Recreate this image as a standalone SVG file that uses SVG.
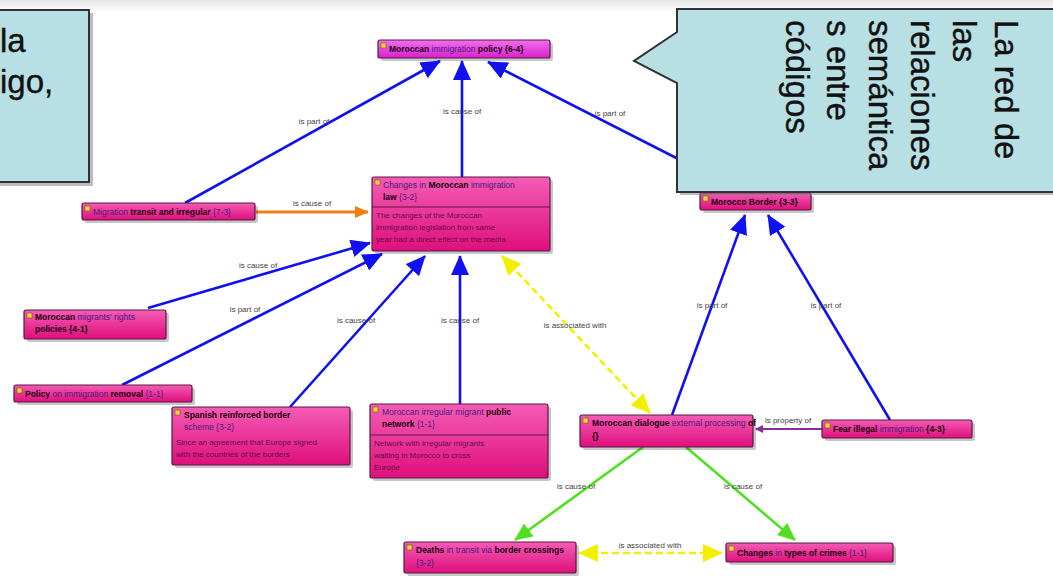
<svg xmlns="http://www.w3.org/2000/svg" width="1053" height="579" viewBox="0 0 1053 579">
  <style>
    .node-body { stroke: #5b1645; stroke-width: 1.2; }
    .shadow { fill: #000; opacity: 0.22; }
    .icon { fill: #f4d23a; stroke: #7a5a10; stroke-width: 0.6; }
    .title { font-family: "Liberation Sans", Arial, sans-serif; font-size: 8.5px; font-weight: bold; fill: #1a0010; }
    .title .lite { font-weight: normal; fill: #4a1a80; }
    .desc { font-family: "Liberation Sans", Arial, sans-serif; font-size: 8px; fill: #6a0a45; }
    .sep { stroke: #5b1645; stroke-width: 1; }
    .elabel { font-family: "Liberation Sans", Arial, sans-serif; font-size: 8px; fill: #444; text-anchor: middle; }
    .blue { stroke: #1010f0; stroke-width: 2.6; fill: none; }
    .orange { stroke: #f08010; stroke-width: 2.8; fill: none; }
    .yellow { stroke: #f2f000; stroke-width: 2.6; fill: none; stroke-dasharray: 7 4; }
    .green { stroke: #50e020; stroke-width: 2.6; fill: none; }
    .purple { stroke: #8a2aa0; stroke-width: 2; fill: none; }
    .callout { fill: #b8dfe3; stroke: #2e3436; stroke-width: 2; }
    .ctext { font-family: "Liberation Sans", Arial, sans-serif; font-size: 33px; fill: #111; stroke: #111; stroke-width: 0.4; }
  </style>
  <defs>
    <linearGradient id="pink" x1="0" y1="0" x2="0" y2="1">
      <stop offset="0" stop-color="#f45cb4"/>
      <stop offset="1" stop-color="#df0f7c"/>
    </linearGradient>
    <linearGradient id="magenta" x1="0" y1="0" x2="0" y2="1">
      <stop offset="0" stop-color="#f070ec"/>
      <stop offset="1" stop-color="#d820cc"/>
    </linearGradient>
    <linearGradient id="topfade" x1="0" y1="0" x2="0" y2="1">
      <stop offset="0" stop-color="#e6e6e6"/>
      <stop offset="1" stop-color="#ffffff"/>
    </linearGradient>
    <marker id="arBlue" viewBox="0 0 20 18" refX="19" refY="9" markerWidth="20" markerHeight="18" markerUnits="userSpaceOnUse" orient="auto">
      <path d="M0,0 L20,9 L0,18 Z" fill="#1010f0"/>
    </marker>
    <marker id="arOrange" viewBox="0 0 14 12" refX="13" refY="6" markerWidth="14" markerHeight="12" markerUnits="userSpaceOnUse" orient="auto">
      <path d="M0,0 L14,6 L0,12 Z" fill="#f08010"/>
    </marker>
    <marker id="arYellow" viewBox="0 0 20 18" refX="19" refY="9" markerWidth="20" markerHeight="18" markerUnits="userSpaceOnUse" orient="auto-start-reverse">
      <path d="M0,0 L20,9 L0,18 Z" fill="#f2f000"/>
    </marker>
    <marker id="arGreen" viewBox="0 0 18 16" refX="17" refY="8" markerWidth="18" markerHeight="16" markerUnits="userSpaceOnUse" orient="auto">
      <path d="M0,0 L18,8 L0,16 Z" fill="#50e020"/>
    </marker>
    <marker id="arPurple" viewBox="0 0 8 8" refX="7" refY="4" markerWidth="8" markerHeight="8" markerUnits="userSpaceOnUse" orient="auto">
      <path d="M0,0 L8,4 L0,8 Z" fill="#8a2aa0"/>
    </marker>
  </defs>

  <!-- page background -->
  <rect x="0" y="0" width="1053" height="579" fill="#ffffff"/>
  <rect x="0" y="0" width="1053" height="12" fill="url(#topfade)"/>

  <!-- connectors -->
  <g id="connectors">
    <line class="blue" x1="185" y1="203" x2="440" y2="61" marker-end="url(#arBlue)"/>
    <text class="elabel" x="314" y="124">is part of</text>
    <line class="blue" x1="462" y1="177" x2="462" y2="61" marker-end="url(#arBlue)"/>
    <text class="elabel" x="462" y="114">is cause of</text>
    <line class="blue" x1="745" y1="193" x2="488" y2="62" marker-end="url(#arBlue)"/>
    <text class="elabel" x="610" y="116">is part of</text>

    <line class="orange" x1="256" y1="212" x2="368" y2="212" marker-end="url(#arOrange)"/>
    <text class="elabel" x="312" y="206">is cause of</text>

    <line class="blue" x1="148" y1="308" x2="370" y2="243" marker-end="url(#arBlue)"/>
    <text class="elabel" x="258" y="268">is cause of</text>
    <line class="blue" x1="122" y1="385" x2="382" y2="254" marker-end="url(#arBlue)"/>
    <text class="elabel" x="245" y="312">is part of</text>
    <line class="blue" x1="290" y1="407" x2="425" y2="256" marker-end="url(#arBlue)"/>
    <text class="elabel" x="356" y="323">is cause of</text>
    <line class="blue" x1="460" y1="404" x2="460" y2="256" marker-end="url(#arBlue)"/>
    <text class="elabel" x="460" y="323">is cause of</text>

    <line class="yellow" x1="502" y1="256" x2="650" y2="413" marker-start="url(#arYellow)" marker-end="url(#arYellow)"/>
    <text class="elabel" x="575" y="328">is associated with</text>

    <line class="blue" x1="672" y1="415" x2="745" y2="215" marker-end="url(#arBlue)"/>
    <text class="elabel" x="712" y="308">is part of</text>
    <line class="blue" x1="890" y1="420" x2="768" y2="215" marker-end="url(#arBlue)"/>
    <text class="elabel" x="826" y="308">is part of</text>

    <line class="purple" x1="822" y1="429" x2="756" y2="429" marker-end="url(#arPurple)"/>
    <text class="elabel" x="788" y="423">is property of</text>

    <line class="green" x1="643" y1="447" x2="515" y2="540" marker-end="url(#arGreen)"/>
    <text class="elabel" x="576" y="489">is cause of</text>
    <line class="green" x1="686" y1="447" x2="795" y2="540" marker-end="url(#arGreen)"/>
    <text class="elabel" x="743" y="489">is cause of</text>

    <line class="yellow" x1="579" y1="553" x2="722" y2="553" marker-start="url(#arYellow)" marker-end="url(#arYellow)"/>
    <text class="elabel" x="650" y="548">is associated with</text>
  </g>

  <!-- nodes -->
  <g id="node-top">
    <rect class="shadow" x="381" y="43" width="172" height="18" rx="2"/>
    <rect class="node-body" x="378" y="40" width="172" height="18" rx="2" fill="url(#magenta)"/>
    <rect class="icon" x="381" y="43" width="5" height="5"/>
    <text class="title" x="389" y="52">Moroccan <tspan class="lite">immigration</tspan> policy {6-4}</text>
  </g>

  <g id="node-central">
    <rect class="shadow" x="375" y="180" width="178" height="74" rx="2"/>
    <rect class="node-body" x="372" y="177" width="178" height="74" rx="2" fill="url(#pink)"/>
    <rect class="icon" x="375" y="180" width="5" height="5"/>
    <text class="title" x="383" y="188"><tspan class="lite">Changes in</tspan> Moroccan <tspan class="lite">immigration</tspan></text>
    <text class="title" x="383" y="200">law <tspan class="lite">{3-2}</tspan></text>
    <line class="sep" x1="372" y1="207" x2="550" y2="207"/>
    <text class="desc" x="376" y="218">The changes of the Moroccan</text>
    <text class="desc" x="376" y="230">immigration legislation from same</text>
    <text class="desc" x="376" y="242">year had a direct effect on the media</text>
  </g>

  <g id="node-migration">
    <rect class="shadow" x="85" y="206" width="173" height="17" rx="2"/>
    <rect class="node-body" x="82" y="203" width="173" height="17" rx="2" fill="url(#pink)"/>
    <rect class="icon" x="85" y="206" width="5" height="5"/>
    <text class="title" x="93" y="215"><tspan class="lite">Migration</tspan> transit and irregular <tspan class="lite">{7-3}</tspan></text>
  </g>

  <g id="node-rights">
    <rect class="shadow" x="27" y="313" width="142" height="29" rx="2"/>
    <rect class="node-body" x="24" y="310" width="142" height="29" rx="2" fill="url(#pink)"/>
    <rect class="icon" x="27" y="313" width="5" height="5"/>
    <text class="title" x="35" y="320">Moroccan <tspan class="lite">migrants' rights</tspan></text>
    <text class="title" x="35" y="332">policies {4-1}</text>
  </g>

  <g id="node-policy">
    <rect class="shadow" x="17" y="388" width="178" height="17" rx="2"/>
    <rect class="node-body" x="14" y="385" width="178" height="17" rx="2" fill="url(#pink)"/>
    <rect class="icon" x="17" y="388" width="5" height="5"/>
    <text class="title" x="25" y="397">Policy <tspan class="lite">on immigration</tspan> removal <tspan class="lite">{1-1}</tspan></text>
  </g>

  <g id="node-spanish">
    <rect class="shadow" x="175" y="410" width="178" height="58" rx="2"/>
    <rect class="node-body" x="172" y="407" width="178" height="58" rx="2" fill="url(#pink)"/>
    <rect class="icon" x="175" y="410" width="5" height="5"/>
    <text class="title" x="184" y="418">Spanish reinforced border</text>
    <text class="title" x="184" y="430"><tspan class="lite">scheme {3-2}</tspan></text>
    <text class="desc" x="176" y="445">Since an agreement that Europe signed</text>
    <text class="desc" x="176" y="457">with the countries of the borders</text>
  </g>

  <g id="node-network">
    <rect class="shadow" x="373" y="407" width="178" height="74" rx="2"/>
    <rect class="node-body" x="370" y="404" width="178" height="74" rx="2" fill="url(#pink)"/>
    <rect class="icon" x="373" y="407" width="5" height="5"/>
    <text class="title" x="382" y="415"><tspan class="lite">Moroccan irregular migrant</tspan> public</text>
    <text class="title" x="382" y="427">network <tspan class="lite">{1-1}</tspan></text>
    <line class="sep" x1="370" y1="435" x2="548" y2="435"/>
    <text class="desc" x="374" y="446">Network with irregular migrants</text>
    <text class="desc" x="374" y="458">waiting in Morocco to cross</text>
    <text class="desc" x="374" y="470">Europe</text>
  </g>

  <g id="node-dialogue">
    <rect class="shadow" x="583" y="418" width="173" height="32" rx="2"/>
    <rect class="node-body" x="580" y="415" width="173" height="32" rx="2" fill="url(#pink)"/>
    <rect class="icon" x="583" y="418" width="5" height="5"/>
    <text class="title" x="592" y="426">Moroccan dialogue <tspan class="lite">external processing</tspan> of</text>
    <text class="title" x="592" y="439">{}</text>
  </g>

  <g id="node-fear">
    <rect class="shadow" x="825" y="423" width="150" height="18" rx="2"/>
    <rect class="node-body" x="822" y="420" width="150" height="18" rx="2" fill="url(#pink)"/>
    <rect class="icon" x="825" y="423" width="5" height="5"/>
    <text class="title" x="833" y="432">Fear illegal <tspan class="lite">immigration</tspan> {4-3}</text>
  </g>

  <g id="node-border">
    <rect class="shadow" x="703" y="196" width="111" height="17" rx="2"/>
    <rect class="node-body" x="700" y="193" width="111" height="17" rx="2" fill="url(#pink)"/>
    <rect class="icon" x="703" y="196" width="5" height="5"/>
    <text class="title" x="711" y="205">Morocco Border {3-3}</text>
  </g>

  <g id="node-deaths">
    <rect class="shadow" x="407" y="545" width="172" height="31" rx="2"/>
    <rect class="node-body" x="404" y="542" width="172" height="31" rx="2" fill="url(#pink)"/>
    <rect class="icon" x="407" y="545" width="5" height="5"/>
    <text class="title" x="416" y="553">Deaths <tspan class="lite">in transit via</tspan> border crossings</text>
    <text class="title" x="416" y="566"><tspan class="lite">{3-2}</tspan></text>
  </g>

  <g id="node-crimes">
    <rect class="shadow" x="729" y="546" width="167" height="19" rx="2"/>
    <rect class="node-body" x="726" y="543" width="167" height="19" rx="2" fill="url(#pink)"/>
    <rect class="icon" x="729" y="546" width="5" height="5"/>
    <text class="title" x="737" y="556">Changes <tspan class="lite">in</tspan> types of crimes <tspan class="lite">{1-1}</tspan></text>
  </g>

  <!-- left comment box, cut off at the page edge -->
  <g id="callout-left">
    <rect x="-8" y="13" width="101" height="173" fill="#7a7a7a" opacity="0.5"/>
    <rect class="callout" x="-10" y="10" width="99" height="172"/>
    <text class="ctext" x="0" y="52">la</text>
    <text class="ctext" x="0" y="93">igo,</text>
  </g>

  <!-- right comment box with pointer, text set vertically -->
  <g id="callout-right">
    <path d="M680,12 H1060 V195 H680 Z" fill="#7a7a7a" opacity="0.5"/>
    <path class="callout" d="M677,9 H1060 V192 H677 V83 L634,61 L677,32 Z"/>
    <text class="ctext" transform="translate(995,20) rotate(90)">La red de</text>
    <text class="ctext" transform="translate(953,20) rotate(90)">las</text>
    <text class="ctext" transform="translate(911,20) rotate(90)">relaciones</text>
    <text class="ctext" transform="translate(869,20) rotate(90)">semántica</text>
    <text class="ctext" transform="translate(827,20) rotate(90)">s entre</text>
    <text class="ctext" transform="translate(786,20) rotate(90)">códigos</text>
  </g>
</svg>
